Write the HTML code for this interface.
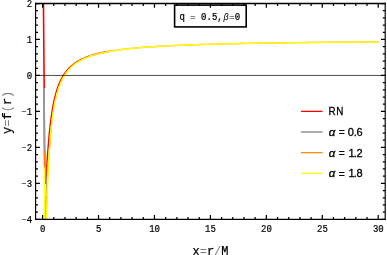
<!DOCTYPE html>
<html><head><meta charset="utf-8"><title>plot</title>
<style>
html,body{margin:0;padding:0;background:#fff;}
body{width:387px;height:255px;overflow:hidden;font-family:"Liberation Mono",monospace;}
svg{display:block;will-change:transform;}
text{font-family:"Liberation Mono",monospace;fill:#000;}
</style></head>
<body>
<svg width="387" height="255" viewBox="0 0 387 255">
<defs><clipPath id="clip"><rect x="35.6" y="3.5" width="349.59999999999997" height="215.85"/></clipPath></defs>
<rect width="387" height="255" fill="#fff"/>

<g clip-path="url(#clip)" fill="none" stroke-width="1.6" stroke-linejoin="round">
<path d="M43.40,-8.00 L43.55,15.00 L44.20,88.00 L44.20,103.24 L44.24,112.17 L44.28,120.18 L44.32,127.37 L44.36,133.82 L44.40,139.62 L44.44,144.83 L44.48,149.51 L44.52,153.71 L44.56,157.47 L44.60,160.84 L44.64,163.86 L44.68,166.56 L44.72,168.97 L44.76,171.11 L44.81,173.01 L44.85,174.69 L44.89,176.17 L44.93,177.46 L44.97,178.60 L45.01,179.57 L45.05,180.41 L45.09,181.13 L45.13,181.72 L45.17,182.21 L45.21,182.60 L45.25,182.91 L45.29,183.12 L45.33,183.27 L45.37,183.35 L45.41,183.36 L45.45,183.31 L45.49,183.21 L45.53,183.06 L45.57,182.87 L45.61,182.64 L45.65,182.37 L45.69,182.06 L45.73,181.72 L45.77,181.36 L45.81,180.96 L45.85,180.55 L45.89,180.11 L45.93,179.65 L45.97,179.17 L46.01,178.68 L46.05,178.17 L46.09,177.64 L46.13,177.11 L46.17,176.56 L46.21,176.01 L46.25,175.44 L46.29,174.87 L46.33,174.29 L46.37,173.70 L46.41,173.11 L46.46,172.52 L46.50,171.92 L46.54,171.31 L46.58,170.71 L46.62,170.10 L46.66,169.49 L46.70,168.88 L46.74,168.26 L46.78,167.65 L46.82,167.04 L46.86,166.42 L46.90,165.81 L46.94,165.20 L46.98,164.59 L47.02,163.98 L47.06,163.37 L47.10,162.76 L47.14,162.16 L47.18,161.56 L47.22,160.96 L47.26,160.36 L47.30,159.76 L47.34,159.17 L47.38,158.58 L47.42,158.00 L47.46,157.41 L47.50,156.83 L47.54,156.25 L47.58,155.68 L47.62,155.11 L47.66,154.54 L47.70,153.98 L47.74,153.42 L47.78,152.86 L47.82,152.31 L47.86,151.76 L47.90,151.21 L47.94,150.67 L47.98,150.13 L48.02,149.60 L48.06,149.07 L48.10,148.54 L48.15,148.01 L48.19,147.49 L48.23,146.98 L48.27,146.46 L48.31,145.96 L48.35,145.45 L48.39,144.95 L48.43,144.45 L48.47,143.96 L48.51,143.47 L48.55,142.98 L48.59,142.50 L48.63,142.02 L48.67,141.54 L48.71,141.07 L48.75,140.60 L48.79,140.13 L48.83,139.67 L48.87,139.21 L48.91,138.76 L48.95,138.31 L48.99,137.86 L49.03,137.42 L49.07,136.98 L49.11,136.54 L49.15,136.10 L49.19,135.67 L49.23,135.25 L49.27,134.82 L49.31,134.40 L49.49,132.56 L49.67,130.77 L49.85,129.05 L50.03,127.38 L50.21,125.77 L50.39,124.22 L50.57,122.71 L50.75,121.25 L50.93,119.84 L51.11,118.48 L51.29,117.16 L51.47,115.88 L51.65,114.63 L51.83,113.43 L52.02,112.26 L52.20,111.13 L52.38,110.03 L52.56,108.96 L52.74,107.93 L52.92,106.92 L53.10,105.94 L53.28,104.99 L53.46,104.06 L53.64,103.16 L53.82,102.28 L54.00,101.43 L54.18,100.60 L54.36,99.79 L54.54,99.00 L54.72,98.23 L54.90,97.48 L55.08,96.75 L55.26,96.03 L55.44,95.34 L55.62,94.66 L55.80,93.99 L55.98,93.34 L56.16,92.71 L56.34,92.09 L56.52,91.49 L56.70,90.90 L56.88,90.32 L57.06,89.75 L57.24,89.20 L57.42,88.66 L57.60,88.13 L57.78,87.61 L57.96,87.10 L58.14,86.60 L58.32,86.12 L58.50,85.64 L58.68,85.17 L58.86,84.71 L59.04,84.26 L59.22,83.82 L59.40,83.39 L59.58,82.97 L59.76,82.55 L59.94,82.14 L60.12,81.74 L60.30,81.35 L60.48,80.96 L60.66,80.58 L60.84,80.21 L61.02,79.84 L61.20,79.49 L61.39,79.13 L61.57,78.79 L61.75,78.45 L61.93,78.11 L62.11,77.78 L62.29,77.46 L62.47,77.14 L62.65,76.83 L62.83,76.52 L63.01,76.21 L63.19,75.92 L63.37,75.62 L63.55,75.33 L63.73,75.05 L63.91,74.77 L64.09,74.50 L64.27,74.22 L64.45,73.96 L64.63,73.69 L64.81,73.44 L64.99,73.18 L65.17,72.93 L65.35,72.68 L65.53,72.44 L65.71,72.20 L65.89,71.96 L66.07,71.73 L66.25,71.50 L66.43,71.27 L66.61,71.05 L66.79,70.83 L66.97,70.61 L67.15,70.39 L67.33,70.18 L67.51,69.97 L67.69,69.77 L67.87,69.56 L68.05,69.36 L68.23,69.16 L68.41,68.97 L68.59,68.78 L68.77,68.59 L68.95,68.40 L69.13,68.21 L69.31,68.03 L69.49,67.85 L69.67,67.67 L69.85,67.49 L70.03,67.32 L70.21,67.15 L70.39,66.98 L70.58,66.81 L70.76,66.64 L70.94,66.48 L71.12,66.32 L71.30,66.16 L71.48,66.00 L71.66,65.84 L71.84,65.69 L72.02,65.54 L72.20,65.39 L72.38,65.24 L72.56,65.09 L72.74,64.95 L72.92,64.80 L73.10,64.66 L73.28,64.52 L73.46,64.38 L73.64,64.24 L73.82,64.10 L74.00,63.97 L74.18,63.84 L74.36,63.70 L74.54,63.57 L74.72,63.45 L74.90,63.32 L75.08,63.19 L75.26,63.07 L75.44,62.94 L75.62,62.82 L75.80,62.70 L75.98,62.58 L76.16,62.46 L77.68,61.51 L79.20,60.63 L80.72,59.82 L82.25,59.06 L83.77,58.37 L85.29,57.72 L86.81,57.11 L88.33,56.54 L89.85,56.01 L91.37,55.51 L92.89,55.04 L94.42,54.59 L95.94,54.17 L97.46,53.78 L98.98,53.40 L100.50,53.04 L102.02,52.71 L103.54,52.38 L105.06,52.08 L106.59,51.78 L108.11,51.50 L109.63,51.24" stroke="#ff0000" stroke-width="1.6"/>
<path d="M109.63,51.24 L111.15,50.98 L112.67,50.74 L114.19,50.50 L115.71,50.28 L117.23,50.06 L118.75,49.85 L120.28,49.65 L121.80,49.46 L123.32,49.28 L124.84,49.10 L126.36,48.93 L127.88,48.76 L129.40,48.60 L130.92,48.45 L132.45,48.30 L133.97,48.15 L135.49,48.01 L137.01,47.88 L138.53,47.75 L140.05,47.62 L141.57,47.50 L143.09,47.38 L144.62,47.26 L146.14,47.15 L147.66,47.04 L149.18,46.93 L150.70,46.83 L152.22,46.73 L153.74,46.63 L155.26,46.53 L156.78,46.44 L158.31,46.35 L159.83,46.26 L161.35,46.18 L162.87,46.09 L164.39,46.01 L165.91,45.93 L167.43,45.85 L168.95,45.78 L170.48,45.70 L172.00,45.63 L173.52,45.56 L175.04,45.49 L176.56,45.42 L178.08,45.36 L179.60,45.29 L181.12,45.23 L182.65,45.17 L184.17,45.11 L185.69,45.05 L187.21,44.99 L188.73,44.93 L190.25,44.88 L191.77,44.82 L193.29,44.77 L194.82,44.72 L196.34,44.67 L197.86,44.62 L199.38,44.57 L200.90,44.52 L202.42,44.47 L203.94,44.42 L205.46,44.38 L206.98,44.33 L208.51,44.29 L210.03,44.25 L211.55,44.20 L213.07,44.16 L214.59,44.12 L216.11,44.08 L217.63,44.04 L219.15,44.00 L220.68,43.96 L222.20,43.93 L223.72,43.89 L225.24,43.85 L226.76,43.82 L228.28,43.78 L229.80,43.75 L231.32,43.71 L232.85,43.68 L234.37,43.65 L235.89,43.61 L237.41,43.58 L238.93,43.55 L240.45,43.52 L241.97,43.49 L243.49,43.46 L245.01,43.43 L246.54,43.40 L248.06,43.37 L249.58,43.34 L251.10,43.31 L252.62,43.29 L254.14,43.26 L255.66,43.23 L257.18,43.21 L258.71,43.18 L260.23,43.15 L261.75,43.13 L263.27,43.10 L264.79,43.08 L266.31,43.05 L267.83,43.03 L269.35,43.01 L270.88,42.98 L272.40,42.96 L273.92,42.94 L275.44,42.92 L276.96,42.89 L278.48,42.87 L280.00,42.85 L281.52,42.83 L283.05,42.81 L284.57,42.79 L286.09,42.77 L287.61,42.75 L289.13,42.73 L290.65,42.71 L292.17,42.69 L293.69,42.67 L295.21,42.65 L296.74,42.63 L298.26,42.61 L299.78,42.59 L301.30,42.57 L302.82,42.56 L304.34,42.54 L305.86,42.52 L307.38,42.50 L308.91,42.49 L310.43,42.47 L311.95,42.45 L313.47,42.44 L314.99,42.42 L316.51,42.40 L318.03,42.39 L319.55,42.37 L321.08,42.36 L322.60,42.34 L324.12,42.32 L325.64,42.31 L327.16,42.29 L328.68,42.28 L330.20,42.26 L331.72,42.25 L333.25,42.24 L334.77,42.22 L336.29,42.21 L337.81,42.19 L339.33,42.18 L340.85,42.17 L342.37,42.15 L343.89,42.14 L345.41,42.13 L346.94,42.11 L348.46,42.10 L349.98,42.09 L351.50,42.07 L353.02,42.06 L354.54,42.05 L356.06,42.04 L357.58,42.02 L359.11,42.01 L360.63,42.00 L362.15,41.99 L363.67,41.98 L365.19,41.96 L366.71,41.95 L368.23,41.94 L369.75,41.93 L371.28,41.92 L372.80,41.91 L374.32,41.90 L375.84,41.88 L377.36,41.87 L378.88,41.86" stroke="#ff0000" stroke-width="1.3" stroke-opacity="0.5"/>
<path d="M44.2,88 L44.65,150.7 L44.7,168" stroke="#999999" stroke-width="1.35"/>
<path d="M44.84,214.83 L44.89,214.94 L44.95,214.84 L45.01,214.55 L45.06,214.10 L45.12,213.52 L45.18,212.81 L45.23,212.01 L45.29,211.12 L45.35,210.15 L45.40,209.13 L45.46,208.05 L45.52,206.92 L45.57,205.76 L45.63,204.56 L45.69,203.34 L45.74,202.11 L45.80,200.85 L45.86,199.58 L45.91,198.31 L45.97,197.03 L46.03,195.74 L46.08,194.46 L46.14,193.18 L46.20,191.90 L46.25,190.62 L46.31,189.36 L46.37,188.10 L46.42,186.84 L46.48,185.60 L46.54,184.37 L46.59,183.14 L46.65,181.93 L46.71,180.73 L46.76,179.55 L46.82,178.37 L46.88,177.21 L46.93,176.06 L46.99,174.92 L47.05,173.80 L47.10,172.69 L47.16,171.59 L47.22,170.51 L47.27,169.44 L47.33,168.38 L47.39,167.34 L47.44,166.31 L47.50,165.29 L47.56,164.29 L47.61,163.30 L47.67,162.81 L47.73,162.60 L47.78,162.38 L47.84,162.13 L47.90,161.86 L47.95,161.58 L48.01,161.28 L48.07,160.97 L48.12,160.65 L48.18,160.31 L48.24,159.97 L48.29,159.61 L48.35,159.24 L48.41,158.87 L48.46,158.49 L48.52,158.10 L48.58,157.70 L48.63,157.30 L48.69,156.89 L48.75,156.47 L48.80,156.06 L48.86,155.63 L48.92,155.21 L48.97,154.78 L49.03,154.35 L49.09,153.91 L49.14,153.03 L49.20,152.13 L49.26,151.25 L49.31,150.39 L49.49,147.72 L49.67,145.17 L49.85,142.74 L50.03,140.42 L50.21,138.20 L50.39,136.08 L50.57,134.04 L50.75,132.09 L50.93,130.21 L51.11,128.42 L51.29,126.69 L51.47,125.02" stroke="#999999" stroke-width="1.15"/>
<path d="M44.65,150.7 L45.3,183.5" stroke="#ff8000"/>
<path d="M46.03,230.12 L46.07,228.36 L46.11,226.63 L46.15,224.92 L46.20,223.25 L46.24,221.60 L46.28,219.98 L46.32,218.39 L46.36,216.82 L46.40,215.28 L46.45,213.76 L46.49,212.27 L46.53,210.80 L46.57,209.36 L46.61,207.93 L46.65,206.53 L46.69,205.15 L46.74,203.80 L46.78,202.46 L46.82,201.14 L46.86,199.85 L46.90,198.57 L46.94,197.32 L46.99,196.08 L47.03,194.86 L47.07,193.66 L47.11,192.47 L47.15,191.31 L47.19,190.16 L47.23,189.02 L47.28,187.91 L47.32,186.81 L47.36,185.72 L47.40,184.65 L47.44,183.60 L47.48,182.56 L47.53,181.53 L47.57,180.52 L47.61,179.52 L47.65,178.59 L47.69,177.74 L47.73,176.90 L47.77,176.07 L47.82,175.25 L47.86,174.44 L47.90,173.64 L47.94,172.85 L47.98,172.06 L48.02,171.28 L48.07,170.51 L48.11,169.75 L48.15,169.00 L48.19,168.25 L48.23,167.52 L48.27,166.79 L48.32,166.06 L48.36,165.35 L48.40,164.64 L48.44,163.94 L48.48,163.25 L48.52,162.56 L48.56,161.89 L48.61,161.21 L48.65,160.55 L48.69,159.89 L48.73,159.24 L48.77,158.59 L48.81,157.96 L48.86,157.32 L48.90,156.70 L48.94,156.08 L48.98,155.47 L49.02,154.86 L49.06,154.26 L49.10,153.63 L49.15,152.97 L49.19,152.31 L49.23,151.66 L49.27,151.02 L49.31,150.39 L49.49,147.72 L49.67,145.17 L49.85,142.74 L50.03,140.42 L50.21,138.20 L50.39,136.08 L50.57,134.04 L50.75,132.09 L50.93,130.21 L51.11,128.42 L51.29,126.69 L51.47,125.02" stroke="#ff8000" stroke-width="1.15"/>
<path d="M44.6,167.2 L44.3,180 L44.3,186 L44.75,200 L45.0,222" stroke="#ffff00" stroke-width="1.45"/>
<path d="M45.75,187 L45.7,194" stroke="#ffff00" stroke-width="1.1" stroke-opacity="0.45"/><path d="M45.7,193 L45.7,222" stroke="#ffff00" stroke-width="1.3" stroke-opacity="0.8"/>
<path d="M46.24,230.12 L46.28,228.42 L46.32,226.75 L46.35,225.11 L46.39,223.50 L46.43,221.91 L46.47,220.35 L46.51,218.82 L46.55,217.31 L46.59,215.83 L46.63,214.37 L46.67,212.93 L46.70,211.51 L46.74,210.12 L46.78,208.75 L46.82,207.40 L46.86,206.07 L46.90,204.77 L46.94,203.48 L46.98,202.21 L47.02,200.96 L47.05,199.73 L47.09,198.51 L47.13,197.32 L47.17,196.14 L47.21,194.98 L47.25,193.84 L47.29,192.71 L47.33,191.60 L47.37,190.50 L47.40,189.42 L47.44,188.36 L47.48,187.31 L47.52,186.27 L47.56,185.25 L47.60,184.24 L47.64,183.25 L47.68,182.27 L47.72,181.30 L47.76,180.35 L47.79,179.40 L47.83,178.47 L47.87,177.56 L47.91,176.65 L47.95,175.76 L47.99,174.87 L48.03,174.00 L48.07,173.14 L48.11,172.29 L48.14,171.45 L48.18,170.62 L48.22,169.81 L48.26,169.00 L48.30,168.20 L48.34,167.41 L48.38,166.63 L48.42,165.86 L48.46,165.10 L48.49,164.35 L48.53,163.60 L48.57,162.87 L48.61,162.14 L48.65,161.43 L48.69,160.72 L48.73,160.02 L48.77,159.32 L48.81,158.64 L48.85,157.96 L48.88,157.29 L48.92,156.63 L48.96,155.97 L49.00,155.32 L49.04,154.68 L49.08,154.05 L49.12,153.42 L49.16,152.80 L49.20,152.19 L49.23,151.58 L49.27,150.98 L49.31,150.39 L49.49,147.72 L49.67,145.17 L49.85,142.74 L50.03,140.42 L50.21,138.20 L50.39,136.08 L50.57,134.04 L50.75,132.09 L50.93,130.21 L51.11,128.42 L51.29,126.69 L51.47,125.02 L51.65,123.42 L51.83,121.88 L52.02,120.39 L52.20,118.95 L52.38,117.57 L52.56,116.23 L52.74,114.94 L52.92,113.69 L53.10,112.48 L53.28,111.31 L53.46,110.17 L53.64,109.07 L53.82,108.01 L54.00,106.97 L54.18,105.97 L54.36,105.00 L54.54,104.05 L54.72,103.13 L54.90,102.24 L55.08,101.37 L55.26,100.53 L55.44,99.71 L55.62,98.91 L55.80,98.13 L55.98,97.37 L56.16,96.63 L56.34,95.91 L56.52,95.20 L56.70,94.52 L56.88,93.85 L57.06,93.20 L57.24,92.56 L57.42,91.94 L57.60,91.33 L57.78,90.73 L57.96,90.15 L58.14,89.59 L58.32,89.03 L58.50,88.49 L58.68,87.96 L58.86,87.44 L59.04,86.93 L59.22,86.43 L59.40,85.94 L59.58,85.46 L59.76,84.99 L59.94,84.54 L60.12,84.09 L60.30,83.65 L60.48,83.21 L60.66,82.79 L60.84,82.37 L61.02,81.97 L61.20,81.57 L61.39,81.17 L61.57,80.79 L61.75,80.41 L61.93,80.04 L62.11,79.67 L62.29,79.32 L62.47,78.96 L62.65,78.62 L62.83,78.28 L63.01,77.94 L63.19,77.62 L63.37,77.29 L63.55,76.98 L63.73,76.66 L63.91,76.36 L64.09,76.06 L64.27,75.76 L64.45,75.47 L64.63,75.18 L64.81,74.90 L64.99,74.62 L65.17,74.34 L65.35,74.07 L65.53,73.81 L65.71,73.55 L65.89,73.29 L66.07,73.03 L66.25,72.78 L66.43,72.54 L66.61,72.30 L66.79,72.06 L66.97,71.82 L67.15,71.59 L67.33,71.36 L67.51,71.13 L67.69,70.91 L67.87,70.69 L68.05,70.47 L68.23,70.26 L68.41,70.05 L68.59,69.84 L68.77,69.64 L68.95,69.44 L69.13,69.24 L69.31,69.04 L69.49,68.84 L69.67,68.65 L69.85,68.46 L70.03,68.28 L70.21,68.09 L70.39,67.91 L70.58,67.73 L70.76,67.55 L70.94,67.38 L71.12,67.20 L71.30,67.03 L71.48,66.86 L71.66,66.70 L71.84,66.53 L72.02,66.37 L72.20,66.21 L72.38,66.05 L72.56,65.89 L72.74,65.74 L72.92,65.58 L73.10,65.43 L73.28,65.28 L73.46,65.13 L73.64,64.99 L73.82,64.84 L74.00,64.70 L74.18,64.56 L74.36,64.42 L74.54,64.28 L74.72,64.14 L74.90,64.01 L75.08,63.87 L75.26,63.74 L75.44,63.61 L75.62,63.48 L75.80,63.35 L75.98,63.23 L76.16,63.10 L77.68,62.09 L79.20,61.16 L80.72,60.31 L82.25,59.52 L83.77,58.79 L85.29,58.11 L86.81,57.48 L88.33,56.88 L89.85,56.33 L91.37,55.81 L92.89,55.32 L94.42,54.86 L95.94,54.43 L97.46,54.02 L98.98,53.63 L100.50,53.26 L102.02,52.91 L103.54,52.58 L105.06,52.26 L106.59,51.96 L108.11,51.67 L109.63,51.40 L111.15,51.13 L112.67,50.88 L114.19,50.64 L115.71,50.41 L117.23,50.19 L118.75,49.98 L120.28,49.77 L121.80,49.58 L123.32,49.39 L124.84,49.21 L126.36,49.03 L127.88,48.86 L129.40,48.70 L130.92,48.54 L132.45,48.39 L133.97,48.24 L135.49,48.10 L137.01,47.96 L138.53,47.83 L140.05,47.70 L141.57,47.57 L143.09,47.45 L144.62,47.33 L146.14,47.22 L147.66,47.10 L149.18,47.00 L150.70,46.89 L152.22,46.79 L153.74,46.69 L155.26,46.59 L156.78,46.50 L158.31,46.41 L159.83,46.32 L161.35,46.23 L162.87,46.14 L164.39,46.06 L165.91,45.98 L167.43,45.90 L168.95,45.82 L170.48,45.75 L172.00,45.68 L173.52,45.60 L175.04,45.53 L176.56,45.47 L178.08,45.40 L179.60,45.33 L181.12,45.27 L182.65,45.21 L184.17,45.14 L185.69,45.08 L187.21,45.03 L188.73,44.97 L190.25,44.91 L191.77,44.86 L193.29,44.80 L194.82,44.75 L196.34,44.70 L197.86,44.65 L199.38,44.60 L200.90,44.55 L202.42,44.50 L203.94,44.45 L205.46,44.41 L206.98,44.36 L208.51,44.32 L210.03,44.27 L211.55,44.23 L213.07,44.19 L214.59,44.15 L216.11,44.10 L217.63,44.06 L219.15,44.03 L220.68,43.99 L222.20,43.95 L223.72,43.91 L225.24,43.87 L226.76,43.84 L228.28,43.80 L229.80,43.77 L231.32,43.73 L232.85,43.70 L234.37,43.67 L235.89,43.63 L237.41,43.60 L238.93,43.57 L240.45,43.54 L241.97,43.51 L243.49,43.48 L245.01,43.45 L246.54,43.42 L248.06,43.39 L249.58,43.36 L251.10,43.33 L252.62,43.30 L254.14,43.28 L255.66,43.25 L257.18,43.22 L258.71,43.20 L260.23,43.17 L261.75,43.14 L263.27,43.12 L264.79,43.09 L266.31,43.07 L267.83,43.05 L269.35,43.02 L270.88,43.00 L272.40,42.97 L273.92,42.95 L275.44,42.93 L276.96,42.91 L278.48,42.88 L280.00,42.86 L281.52,42.84 L283.05,42.82 L284.57,42.80 L286.09,42.78 L287.61,42.76 L289.13,42.74 L290.65,42.72 L292.17,42.70 L293.69,42.68 L295.21,42.66 L296.74,42.64 L298.26,42.62 L299.78,42.60 L301.30,42.58 L302.82,42.57 L304.34,42.55 L305.86,42.53 L307.38,42.51 L308.91,42.50 L310.43,42.48 L311.95,42.46 L313.47,42.45 L314.99,42.43 L316.51,42.41 L318.03,42.40 L319.55,42.38 L321.08,42.36 L322.60,42.35 L324.12,42.33 L325.64,42.32 L327.16,42.30 L328.68,42.29 L330.20,42.27 L331.72,42.26 L333.25,42.24 L334.77,42.23 L336.29,42.22 L337.81,42.20 L339.33,42.19 L340.85,42.17 L342.37,42.16 L343.89,42.15 L345.41,42.13 L346.94,42.12 L348.46,42.11 L349.98,42.09 L351.50,42.08 L353.02,42.07 L354.54,42.06 L356.06,42.04 L357.58,42.03 L359.11,42.02 L360.63,42.01 L362.15,41.99 L363.67,41.98 L365.19,41.97 L366.71,41.96 L368.23,41.95 L369.75,41.94 L371.28,41.92 L372.80,41.91 L374.32,41.90 L375.84,41.89 L377.36,41.88 L378.88,41.87" stroke="#ffff00" stroke-width="1.5"/>
<path d="M45.75,196 L45.35,219" stroke="#a89a00" stroke-width="0.8" stroke-opacity="0.45"/>
</g>

<path d="M35.6,75.45 H385.2" stroke="#000" stroke-width="0.7" fill="none"/>
<rect x="174.6" y="5.1" width="71.6" height="21.8" fill="#fff" stroke="#000" stroke-width="1.6"/>
<path d="M42.60,219.35 v-4.3 M42.60,3.5 v4.3 M53.79,219.35 v-2.4 M53.79,3.5 v2.4 M64.97,219.35 v-2.4 M64.97,3.5 v2.4 M76.16,219.35 v-2.4 M76.16,3.5 v2.4 M87.35,219.35 v-2.4 M87.35,3.5 v2.4 M98.53,219.35 v-4.3 M98.53,3.5 v4.3 M109.72,219.35 v-2.4 M109.72,3.5 v2.4 M120.91,219.35 v-2.4 M120.91,3.5 v2.4 M132.10,219.35 v-2.4 M132.10,3.5 v2.4 M143.28,219.35 v-2.4 M143.28,3.5 v2.4 M154.47,219.35 v-4.3 M154.47,3.5 v4.3 M165.66,219.35 v-2.4 M165.66,3.5 v2.4 M176.84,219.35 v-2.4 M176.84,3.5 v2.4 M188.03,219.35 v-2.4 M188.03,3.5 v2.4 M199.22,219.35 v-2.4 M199.22,3.5 v2.4 M210.40,219.35 v-4.3 M210.40,3.5 v4.3 M221.59,219.35 v-2.4 M221.59,3.5 v2.4 M232.78,219.35 v-2.4 M232.78,3.5 v2.4 M243.97,219.35 v-2.4 M243.97,3.5 v2.4 M255.15,219.35 v-2.4 M255.15,3.5 v2.4 M266.34,219.35 v-4.3 M266.34,3.5 v4.3 M277.53,219.35 v-2.4 M277.53,3.5 v2.4 M288.71,219.35 v-2.4 M288.71,3.5 v2.4 M299.90,219.35 v-2.4 M299.90,3.5 v2.4 M311.09,219.35 v-2.4 M311.09,3.5 v2.4 M322.28,219.35 v-4.3 M322.28,3.5 v4.3 M333.46,219.35 v-2.4 M333.46,3.5 v2.4 M344.65,219.35 v-2.4 M344.65,3.5 v2.4 M355.84,219.35 v-2.4 M355.84,3.5 v2.4 M367.02,219.35 v-2.4 M367.02,3.5 v2.4 M378.21,219.35 v-4.3 M378.21,3.5 v4.3 M35.6,219.33 h4.3 M385.2,219.33 h-4.3 M35.6,212.14 h2.4 M385.2,212.14 h-2.4 M35.6,204.94 h2.4 M385.2,204.94 h-2.4 M35.6,197.75 h2.4 M385.2,197.75 h-2.4 M35.6,190.55 h2.4 M385.2,190.55 h-2.4 M35.6,183.36 h4.3 M385.2,183.36 h-4.3 M35.6,176.17 h2.4 M385.2,176.17 h-2.4 M35.6,168.97 h2.4 M385.2,168.97 h-2.4 M35.6,161.78 h2.4 M385.2,161.78 h-2.4 M35.6,154.58 h2.4 M385.2,154.58 h-2.4 M35.6,147.39 h4.3 M385.2,147.39 h-4.3 M35.6,140.20 h2.4 M385.2,140.20 h-2.4 M35.6,133.00 h2.4 M385.2,133.00 h-2.4 M35.6,125.81 h2.4 M385.2,125.81 h-2.4 M35.6,118.61 h2.4 M385.2,118.61 h-2.4 M35.6,111.42 h4.3 M385.2,111.42 h-4.3 M35.6,104.23 h2.4 M385.2,104.23 h-2.4 M35.6,97.03 h2.4 M385.2,97.03 h-2.4 M35.6,89.84 h2.4 M385.2,89.84 h-2.4 M35.6,82.64 h2.4 M385.2,82.64 h-2.4 M35.6,75.45 h4.3 M385.2,75.45 h-4.3 M35.6,68.26 h2.4 M385.2,68.26 h-2.4 M35.6,61.06 h2.4 M385.2,61.06 h-2.4 M35.6,53.87 h2.4 M385.2,53.87 h-2.4 M35.6,46.67 h2.4 M385.2,46.67 h-2.4 M35.6,39.48 h4.3 M385.2,39.48 h-4.3 M35.6,32.29 h2.4 M385.2,32.29 h-2.4 M35.6,25.09 h2.4 M385.2,25.09 h-2.4 M35.6,17.90 h2.4 M385.2,17.90 h-2.4 M35.6,10.70 h2.4 M385.2,10.70 h-2.4 M35.6,3.51 h4.3 M385.2,3.51 h-4.3" stroke="#000" stroke-width="1.25" fill="none"/>
<path d="M35.6,2.8 V220.04999999999998 M385.2,2.8 V220.04999999999998" stroke="#000" stroke-width="1.15" fill="none"/>
<path d="M35.050000000000004,3.5 H385.75 M35.050000000000004,219.35 H385.75" stroke="#000" stroke-width="1.45" fill="none"/>
<text transform="translate(42.70,232.15) scale(0.9,1)" text-anchor="middle" font-size="10" stroke="#000" stroke-width="0.22">0</text>
<text transform="translate(98.63,232.15) scale(0.9,1)" text-anchor="middle" font-size="10" stroke="#000" stroke-width="0.22">5</text>
<text transform="translate(154.57,232.15) scale(0.9,1)" text-anchor="middle" font-size="10" stroke="#000" stroke-width="0.22">10</text>
<text transform="translate(210.50,232.15) scale(0.9,1)" text-anchor="middle" font-size="10" stroke="#000" stroke-width="0.22">15</text>
<text transform="translate(266.44,232.15) scale(0.9,1)" text-anchor="middle" font-size="10" stroke="#000" stroke-width="0.22">20</text>
<text transform="translate(322.38,232.15) scale(0.9,1)" text-anchor="middle" font-size="10" stroke="#000" stroke-width="0.22">25</text>
<text transform="translate(378.31,232.15) scale(0.9,1)" text-anchor="middle" font-size="10" stroke="#000" stroke-width="0.22">30</text>
<text transform="translate(32.2,222.93) scale(0.9,1)" text-anchor="end" font-size="10" stroke="#000" stroke-width="0.22"><tspan stroke="none" fill="#333" letter-spacing="0.4">−</tspan>4</text>
<text transform="translate(32.2,186.96) scale(0.9,1)" text-anchor="end" font-size="10" stroke="#000" stroke-width="0.22"><tspan stroke="none" fill="#333" letter-spacing="0.4">−</tspan>3</text>
<text transform="translate(32.2,150.99) scale(0.9,1)" text-anchor="end" font-size="10" stroke="#000" stroke-width="0.22"><tspan stroke="none" fill="#333" letter-spacing="0.4">−</tspan>2</text>
<text transform="translate(32.2,115.02) scale(0.9,1)" text-anchor="end" font-size="10" stroke="#000" stroke-width="0.22"><tspan stroke="none" fill="#333" letter-spacing="0.4">−</tspan>1</text>
<text transform="translate(32.2,79.05) scale(0.9,1)" text-anchor="end" font-size="10" stroke="#000" stroke-width="0.22">0</text>
<text transform="translate(32.2,43.08) scale(0.9,1)" text-anchor="end" font-size="10" stroke="#000" stroke-width="0.22">1</text>
<text transform="translate(32.2,7.11) scale(0.9,1)" text-anchor="end" font-size="10" stroke="#000" stroke-width="0.22">2</text>
<text transform="translate(179.5,20.2) scale(0.9,1)" font-size="10" stroke="#000" stroke-width="0.24">q</text>
<text x="189.94" y="20.0" font-size="9.5" fill="#777">=</text>
<text transform="translate(201.1,20.2) scale(0.9,1)" font-size="10" stroke="#000" stroke-width="0.24">0.5,</text>
<text x="223.4" y="20.0" font-size="9" fill="#a0a0a0" style="font-family:'Liberation Sans',sans-serif;font-style:italic">β</text>
<text x="228.9" y="20.0" font-size="9.5" fill="#8a8a8a">=</text>
<text transform="translate(234.7,20.2) scale(0.9,1)" font-size="10" stroke="#000" stroke-width="0.24">0</text>
<path d="M301.0,111.375 H322.5" stroke="#ff0000" stroke-width="1.25" fill="none"/>
<text transform="translate(328.4,115.3) scale(0.9,1)" style="font-family:'Liberation Sans',sans-serif" font-size="11" stroke="#000" stroke-width="0.3" letter-spacing="0.9">RN</text>
<path d="M301.0,132.0 H322.5" stroke="#999999" stroke-width="1.6" fill="none"/>
<text x="328.2" y="135.95" style="font-family:'Liberation Sans',sans-serif" font-size="11" stroke="#000" stroke-width="0.3"><tspan x="328.8" font-style="italic" font-size="11.5">α</tspan><tspan x="338.75" dy="0.5" font-size="10.2">=</tspan><tspan x="347.8" dy="-0.5">0</tspan><tspan x="353.75">.</tspan><tspan x="356.5">6</tspan></text>
<path d="M301.0,152.65 H322.5" stroke="#ff8a10" stroke-width="1.3" fill="none"/>
<text x="328.2" y="156.6" style="font-family:'Liberation Sans',sans-serif" font-size="11" stroke="#000" stroke-width="0.3"><tspan x="328.8" font-style="italic" font-size="11.5">α</tspan><tspan x="338.75" dy="0.5" font-size="10.2">=</tspan><tspan x="348.5" dy="-0.5">1</tspan><tspan x="353.75">.</tspan><tspan x="356.5">2</tspan></text>
<path d="M301.0,173.35 H322.5" stroke="#ffff00" stroke-width="1.3" fill="none"/>
<text x="328.2" y="177.25" style="font-family:'Liberation Sans',sans-serif" font-size="11" stroke="#000" stroke-width="0.3"><tspan x="328.8" font-style="italic" font-size="11.5">α</tspan><tspan x="338.75" dy="0.5" font-size="10.2">=</tspan><tspan x="348.5" dy="-0.5">1</tspan><tspan x="353.75">.</tspan><tspan x="356.5">8</tspan></text>
<text x="210.5" y="254.5" text-anchor="middle" font-size="12" stroke="#000" stroke-width="0.25">x<tspan fill="#7a7a7a" stroke="none">=</tspan>r<tspan fill="#7a7a7a" stroke="none">/</tspan>M</text>
<text transform="translate(11,112.3) rotate(-90)" text-anchor="middle" font-size="12" stroke="#000" stroke-width="0.25">y<tspan fill="#7a7a7a" stroke="none">=</tspan>f<tspan fill="#7a7a7a" stroke="none">(</tspan>r<tspan fill="#7a7a7a" stroke="none">)</tspan></text>
</svg>
</body></html>
